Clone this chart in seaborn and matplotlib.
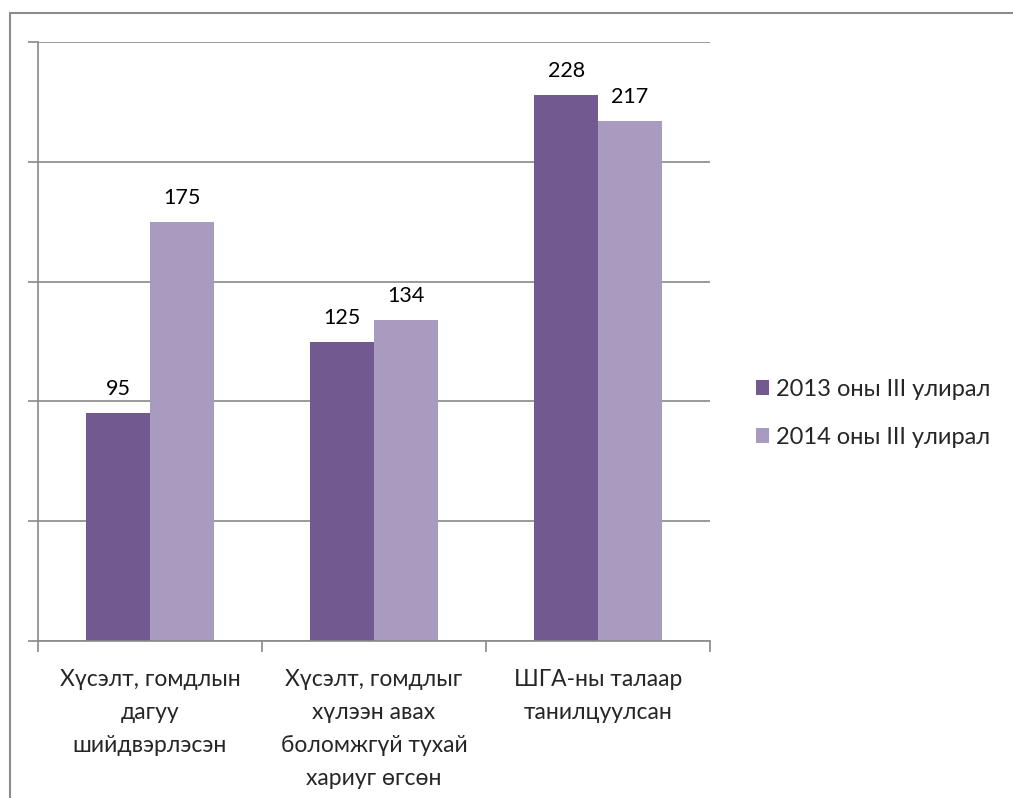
import matplotlib
matplotlib.use("Agg")
import matplotlib.pyplot as plt
import matplotlib.patches as mpatches
import pandas as pd
import seaborn as sns

categories = [
    "Хүсэлт, гомдлын\nдагуу\nшийдвэрлэсэн",
    "Хүсэлт, гомдлыг\nхүлээн авах\nболомжгүй тухай\nхариуг өгсөн",
    "ШГА-ны талаар\nтанилцуулсан",
]
series_names = ["2013 оны III улирал", "2014 оны III улирал"]
values_2013 = [95, 125, 228]
values_2014 = [175, 134, 217]
colors = ["#72598F", "#A99ABF"]

sns.set_theme(style="white")
plt.rcParams["font.family"] = ["Lato", "Noto Sans", "DejaVu Sans"]

df = pd.DataFrame({
    "category": categories * 2,
    "series": [series_names[0]] * 3 + [series_names[1]] * 3,
    "value": values_2013 + values_2014,
})

fig = plt.figure(figsize=(10.13, 7.98), dpi=100)
ax = fig.add_axes([38 / 1013, 1 - 641 / 798, (710 - 38) / 1013, (641 - 42) / 798])

sns.barplot(data=df, x="category", y="value", hue="series", palette=colors,
            width=0.57, gap=0, saturation=1, linewidth=0, ax=ax, legend=True)

grey = "#898989"
ax.set_ylim(0, 250)
ax.set_xlim(-0.5, 2.5)
ax.set_yticks(range(0, 251, 50))
ax.set_yticklabels([])
ax.tick_params(axis="y", which="major", length=7, color=grey, width=1.2, left=True)
ax.yaxis.grid(True, color=grey, linewidth=1.2)
ax.set_axisbelow(True)

ax.set_xticks([-0.5, 0.5, 1.5, 2.5], minor=True)
ax.tick_params(axis="x", which="minor", length=8, color=grey, width=1.2, bottom=True)
ax.tick_params(axis="x", which="major", length=0, pad=20, labelsize=16.5)
for lbl in ax.get_xticklabels():
    lbl.set_linespacing(1.72)
    lbl.set_horizontalalignment("center")
    lbl.set_verticalalignment("top")

ax.set_xlabel("")
ax.set_ylabel("")
for side in ["top", "right"]:
    ax.spines[side].set_visible(False)
for side in ["left", "bottom"]:
    ax.spines[side].set_color(grey)
    ax.spines[side].set_linewidth(1.2)

for container in ax.containers:
    ax.bar_label(container, padding=10, fontsize=15.5, color="#000000")

handles, labels = ax.get_legend_handles_labels()
ax.legend_.remove()
fig.legend(handles, labels, loc="center left", bbox_to_anchor=(0.725, 0.482),
           frameon=False, fontsize=17, handlelength=0.55, handleheight=0.55,
           handletextpad=0.3, labelspacing=1.15)

fig.patches.append(mpatches.Rectangle(
    (10 / 1013, -0.1), 1.2, 1.1 - 13 / 798, transform=fig.transFigure,
    fill=False, edgecolor="#8c8c8c", linewidth=1.5))

fig.savefig("out.png", dpi=100, facecolor="white")
